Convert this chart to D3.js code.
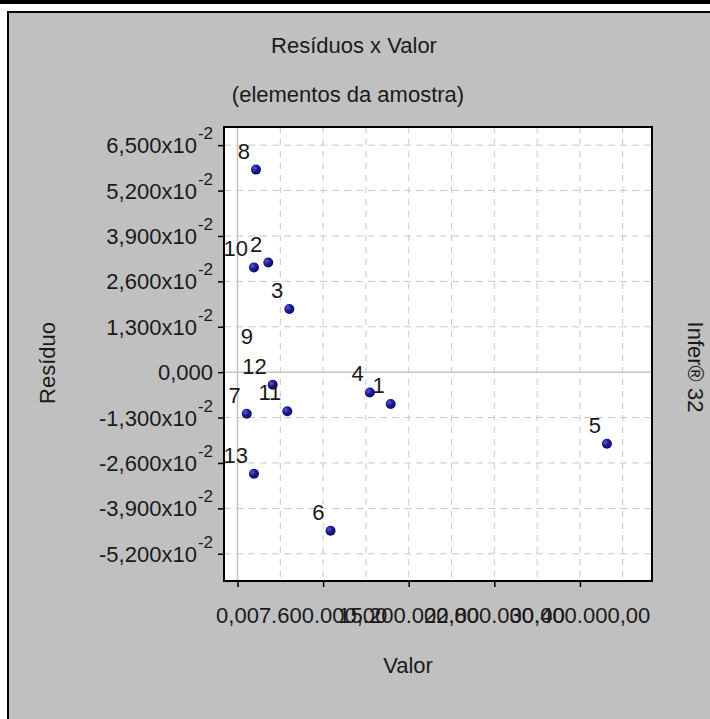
<!DOCTYPE html>
<html>
<head>
<meta charset="utf-8">
<script src="https://cdn.jsdelivr.net/npm/d3@7/dist/d3.min.js"></script>
<style>
  html, body { margin: 0; padding: 0; background: #ffffff; }
  svg { display: block; }
  text { font-family: "Liberation Sans", Arial, sans-serif; fill: #1a1a1a; }
</style>
</head>
<body>
<svg id="chart" width="710" height="719"></svg>
<script>
// Sample elements: id, estimated value, residual
const ids       = ["1", "2", "3", "4", "5", "6", "7", "8", "9", "10", "11", "12", "13"];
const valores   = [13.6e6, 2.73e6, 4.6e6, 11.75e6, 32.8e6, 8.26e6, 0.82e6, 1.64e6, 1.9e6, 1.46e6, 4.42e6, 3.12e6, 1.46e6];
const residuos  = [-0.0091, 0.0314, 0.0181, -0.0058, -0.0205, -0.0454, -0.0119, 0.0580, 0.0050, 0.0300, -0.0112, -0.0036, -0.0291];
// element whose marker is not plotted (only its label appears)
const semMarcador = ["9"];

// Axis ticks
const yTicks = [-0.052, -0.039, -0.026, -0.013, 0, 0.013, 0.026, 0.039, 0.052, 0.065];
const yTickLabels = ["-5,200", "-3,900", "-2,600", "-1,300", "0,000", "1,300", "2,600", "3,900", "5,200", "6,500"];
const xTicks = [0, 7.6e6, 15.2e6, 22.8e6, 30.4e6];
const xTickLabels = ["0,00", "7.600.000,00", "15.200.000,00", "22.800.000,00", "30.400.000,00"];
const xGrid = [3.8e6, 7.6e6, 11.4e6, 15.2e6, 19.0e6, 22.8e6, 26.6e6, 30.4e6, 34.2e6];

const svg = d3.select("#chart");
const W = 710, H = 719;
const FS = 22;
const plot = { left: 224, right: 652, top: 127, bottom: 581 };

const x = d3.scaleLinear().domain([-1.2e6, 36.8e6]).range([plot.left, plot.right]);
const y = d3.scaleLinear().domain([-0.0598, 0.0702]).range([plot.bottom, plot.top]);

// outer frame
svg.append("rect").attr("x", 0).attr("y", 0).attr("width", W).attr("height", 4).attr("fill", "#000");
svg.append("rect").attr("x", 7).attr("y", 11).attr("width", W - 7).attr("height", H - 11).attr("fill", "#c0c0c0");
svg.append("line").attr("x1", 7).attr("x2", W).attr("y1", 12).attr("y2", 12).attr("stroke", "#000").attr("stroke-width", 2);
svg.append("line").attr("x1", 8).attr("x2", 8).attr("y1", 11).attr("y2", H).attr("stroke", "#000").attr("stroke-width", 2);

// plot area
svg.append("rect")
  .attr("x", plot.left).attr("y", plot.top)
  .attr("width", plot.right - plot.left).attr("height", plot.bottom - plot.top)
  .attr("fill", "#ffffff");

const grid = svg.append("g").attr("fill", "none");
grid.selectAll("line.h").data(yTicks.filter(d => d !== 0)).enter().append("line")
  .attr("x1", plot.left).attr("x2", plot.right)
  .attr("y1", d => y(d)).attr("y2", d => y(d))
  .attr("stroke", "#c8c8c8").attr("stroke-dasharray", "7,5");
grid.selectAll("line.v").data(xGrid).enter().append("line")
  .attr("y1", plot.top).attr("y2", plot.bottom)
  .attr("x1", d => x(d)).attr("x2", d => x(d))
  .attr("stroke", "#c8c8c8").attr("stroke-dasharray", "6,6");
// zero reference lines
grid.append("line").attr("x1", plot.left).attr("x2", plot.right)
  .attr("y1", y(0)).attr("y2", y(0)).attr("stroke", "#c4c4c4").attr("stroke-width", 1.5);
grid.append("line").attr("y1", plot.top).attr("y2", plot.bottom)
  .attr("x1", x(0)).attr("x2", x(0)).attr("stroke", "#c4c4c4").attr("stroke-width", 1.5);

// axes
const yAxis = d3.axisLeft(y).tickValues(yTicks).tickSize(6).tickFormat("");
const xAxis = d3.axisBottom(x).tickValues(xTicks).tickSize(6).tickFormat("");
const gy = svg.append("g").attr("transform", `translate(${plot.left},0)`).call(yAxis);
const gx = svg.append("g").attr("transform", `translate(0,${plot.bottom})`).call(xAxis);
[gy, gx].forEach(g => {
  g.select(".domain").remove();
  g.selectAll(".tick line").attr("stroke", "#000").attr("stroke-width", 1.5);
});

// y tick labels with x10^-2 notation
yTicks.forEach((t, i) => {
  const txt = svg.append("text")
    .attr("x", 213).attr("y", y(t) + 8)
    .attr("text-anchor", "end")
    .attr("font-size", FS);
  if (t === 0) {
    txt.text(yTickLabels[i]);
  } else {
    txt.append("tspan").text(yTickLabels[i] + "x10");
    txt.append("tspan").attr("font-size", 17).attr("dy", -14).attr("dx", 1).text("-2");
  }
});

// x tick labels (centred under each tick)
svg.selectAll("text.xl").data(xTicks).enter().append("text")
  .attr("x", d => x(d)).attr("y", 623)
  .attr("text-anchor", "middle").attr("font-size", FS)
  .text((d, i) => xTickLabels[i]);

// frame of the plot
svg.append("rect")
  .attr("x", plot.left).attr("y", plot.top)
  .attr("width", plot.right - plot.left).attr("height", plot.bottom - plot.top)
  .attr("fill", "none").attr("stroke", "#000").attr("stroke-width", 2);

// markers
const defs = svg.append("defs");
const grad = defs.append("radialGradient").attr("id", "mk").attr("cx", "35%").attr("cy", "35%").attr("r", "70%");
grad.append("stop").attr("offset", "0%").attr("stop-color", "#5a5ad0");
grad.append("stop").attr("offset", "45%").attr("stop-color", "#1c1c96");
grad.append("stop").attr("offset", "100%").attr("stop-color", "#0c0c5a");

const pts = ids.map((id, i) => ({ id, v: valores[i], r: residuos[i] }));
svg.selectAll("circle.pt").data(pts.filter(p => !semMarcador.includes(p.id))).enter().append("circle")
  .attr("cx", d => x(d.v)).attr("cy", d => y(d.r)).attr("r", 5)
  .attr("fill", "url(#mk)");

svg.selectAll("text.pl").data(pts).enter().append("text")
  .attr("x", d => x(d.v) - 6).attr("y", d => y(d.r) - 11)
  .attr("text-anchor", "end").attr("font-size", FS)
  .text(d => d.id);

// titles
svg.append("text").attr("x", 354).attr("y", 53).attr("text-anchor", "middle").attr("font-size", FS).text("Resíduos x Valor");
svg.append("text").attr("x", 348).attr("y", 102).attr("text-anchor", "middle").attr("font-size", FS).text("(elementos da amostra)");
svg.append("text").attr("x", 408).attr("y", 673).attr("text-anchor", "middle").attr("font-size", FS).text("Valor");
svg.append("text").attr("transform", "translate(55,363) rotate(-90)").attr("text-anchor", "middle").attr("font-size", FS).text("Resíduo");
svg.append("text").attr("transform", "translate(688,367) rotate(90)").attr("text-anchor", "middle").attr("font-size", FS).text("Infer® 32");
</script>
</body>
</html>
